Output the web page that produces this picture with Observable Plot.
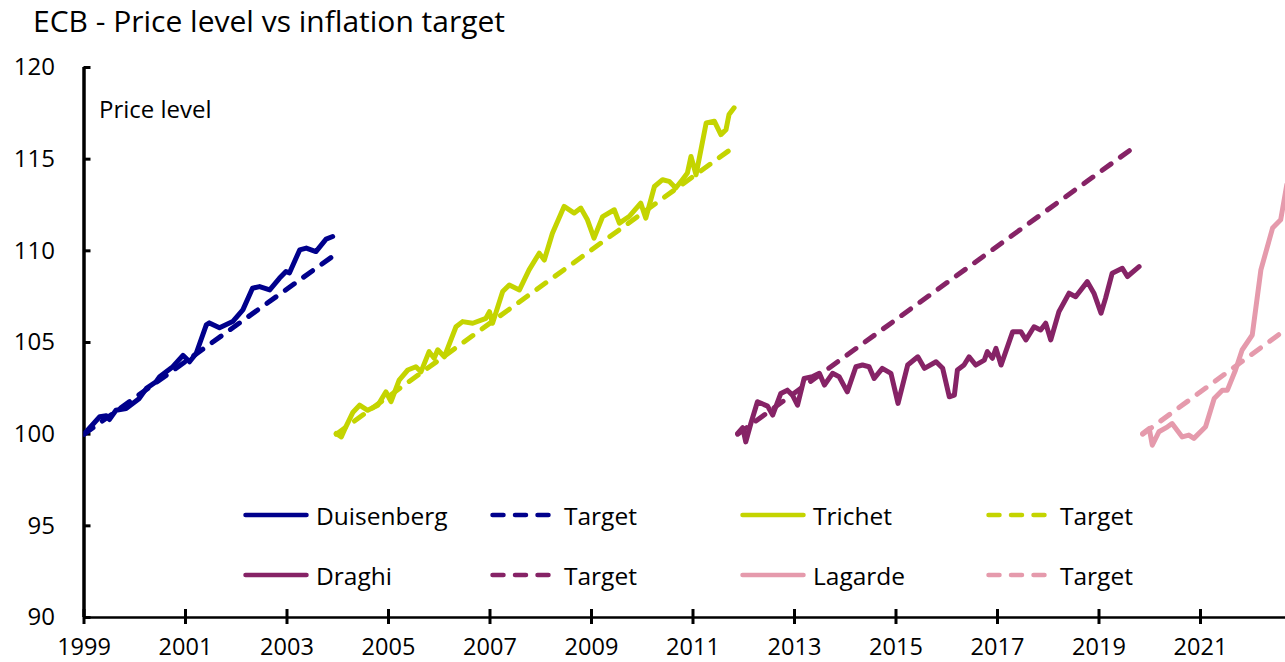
<!DOCTYPE html>
<html><head><meta charset="utf-8">
<script src="https://cdn.jsdelivr.net/npm/d3@7"></script>
<script src="https://cdn.jsdelivr.net/npm/@observablehq/plot@0.6"></script>
<style>
body{margin:0;background:#fff;font-family:"Open Sans",sans-serif;}
#wrap{position:relative;width:1285px;height:662px;overflow:hidden;background:#fff;}
#title{height:40px;font-size:30px;line-height:41px;padding-left:33px;color:#000;white-space:nowrap;overflow:visible;}
#title span{position:relative;top:-3px;}
.leg{position:absolute;height:30px;display:flex;align-items:center;font-size:24.5px;color:#000;white-space:nowrap;}
.leg svg{display:block;margin-right:7px;}
</style></head><body>
<div id="wrap"><div id="title">ECB - Price level vs inflation target</div><div id="chart"></div><div id="legend"></div></div>
<script>
// ---- data (decimal years, price level index) ----
const seriesNames = ["Duisenberg", "Trichet", "Draghi", "Lagarde"];
const seriesColors = ["#00008c", "#c4d400", "#862366", "#e59aac"];
const xTicks = [1999, 2001, 2003, 2005, 2007, 2009, 2011, 2013, 2015, 2017, 2019, 2021];
const yTicks = [90, 95, 100, 105, 110, 115, 120];

const duisenbergYear = [1999.0, 1999.31, 1999.44, 1999.5, 1999.63, 1999.83, 2000.09, 2000.23, 2000.42, 2000.49, 2000.75, 2000.95, 2001.08, 2001.21, 2001.41, 2001.47, 2001.67, 2001.93, 2002.13, 2002.32, 2002.46, 2002.66, 2002.85, 2002.98, 2003.05, 2003.25, 2003.38, 2003.57, 2003.77, 2003.9];
const duisenbergLevel = [100.0, 100.95, 101.0, 100.8, 101.3, 101.4, 101.95, 102.5, 102.86, 103.13, 103.68, 104.3, 103.95, 104.4, 105.96, 106.07, 105.8, 106.14, 106.78, 107.96, 108.05, 107.87, 108.5, 108.87, 108.8, 110.05, 110.15, 109.96, 110.64, 110.78];

const trichetYear = [2003.97, 2004.07, 2004.16, 2004.3, 2004.43, 2004.59, 2004.79, 2004.95, 2005.05, 2005.21, 2005.38, 2005.54, 2005.64, 2005.8, 2005.9, 2005.97, 2006.1, 2006.33, 2006.46, 2006.66, 2006.92, 2006.99, 2007.05, 2007.25, 2007.38, 2007.58, 2007.77, 2007.97, 2008.07, 2008.23, 2008.46, 2008.66, 2008.79, 2008.92, 2009.05, 2009.22, 2009.45, 2009.55, 2009.74, 2009.97, 2010.07, 2010.24, 2010.4, 2010.53, 2010.66, 2010.79, 2010.89, 2010.96, 2011.06, 2011.26, 2011.42, 2011.55, 2011.65, 2011.71, 2011.81];
const trichetLevel = [100.04, 99.85, 100.4, 101.2, 101.58, 101.3, 101.58, 102.31, 101.77, 102.95, 103.5, 103.68, 103.4, 104.5, 104.14, 104.6, 104.22, 105.86, 106.14, 106.05, 106.32, 106.68, 106.05, 107.78, 108.14, 107.87, 108.96, 109.87, 109.5, 110.96, 112.42, 112.06, 112.33, 111.69, 110.69, 111.87, 112.24, 111.51, 111.87, 112.6, 111.78, 113.51, 113.88, 113.79, 113.43, 113.88, 114.24, 115.15, 114.15, 116.98, 117.07, 116.34, 116.61, 117.43, 117.8];

const draghiYear = [2011.88, 2011.98, 2012.04, 2012.14, 2012.27, 2012.47, 2012.57, 2012.73, 2012.86, 2012.96, 2013.06, 2013.19, 2013.35, 2013.49, 2013.59, 2013.75, 2013.88, 2014.04, 2014.21, 2014.34, 2014.47, 2014.57, 2014.73, 2014.9, 2015.04, 2015.23, 2015.43, 2015.56, 2015.79, 2015.92, 2016.05, 2016.15, 2016.21, 2016.34, 2016.44, 2016.57, 2016.74, 2016.8, 2016.9, 2016.97, 2017.07, 2017.3, 2017.46, 2017.56, 2017.72, 2017.85, 2017.95, 2018.05, 2018.21, 2018.41, 2018.54, 2018.77, 2018.9, 2019.04, 2019.13, 2019.26, 2019.46, 2019.56, 2019.79];
const draghiLevel = [100.04, 100.35, 99.58, 100.58, 101.77, 101.53, 101.04, 102.22, 102.4, 102.13, 101.58, 103.04, 103.13, 103.32, 102.68, 103.32, 103.13, 102.31, 103.68, 103.77, 103.68, 103.04, 103.59, 103.32, 101.68, 103.77, 104.22, 103.59, 103.95, 103.59, 102.04, 102.13, 103.5, 103.77, 104.22, 103.77, 104.04, 104.5, 104.14, 104.68, 103.77, 105.59, 105.59, 105.14, 105.86, 105.68, 106.05, 105.14, 106.68, 107.69, 107.5, 108.32, 107.69, 106.6, 107.42, 108.78, 109.05, 108.6, 109.14];

const lagardeYear = [2019.86, 2019.99, 2020.05, 2020.18, 2020.35, 2020.44, 2020.64, 2020.77, 2020.87, 2021.1, 2021.27, 2021.43, 2021.53, 2021.69, 2021.82, 2022.02, 2022.19, 2022.42, 2022.58, 2022.7];
const lagardeLevel = [100.04, 100.31, 99.4, 100.13, 100.4, 100.58, 99.85, 99.95, 99.77, 100.4, 101.95, 102.4, 102.4, 103.5, 104.59, 105.41, 108.96, 111.24, 111.69, 113.6];

// 2% target paths: [start, end] of each term
const targetYear = [[1999.0, 2003.9], [2003.97, 2011.81], [2011.88, 2019.76], [2019.86, 2022.7]];
const targetLevel = [[100, 109.7], [100, 115.67], [100, 115.79], [100, 105.75]];

// ---- build tables ----
const actualYears = [duisenbergYear, trichetYear, draghiYear, lagardeYear];
const actualLevels = [duisenbergLevel, trichetLevel, draghiLevel, lagardeLevel];
const actual = [], target = [];
seriesNames.forEach((s, i) => {
  actualYears[i].forEach((yr, j) => actual.push({series: s, year: yr, level: actualLevels[i][j]}));
  targetYear[i].forEach((yr, j) => target.push({series: s, year: yr, level: targetLevel[i][j]}));
});

const font = '"Open Sans", sans-serif';
const chart = Plot.plot({
  width: 1285, height: 622,
  marginTop: 27, marginBottom: 45, marginLeft: 83.5, marginRight: 0,
  x: {domain: [1999, 2022.675], label: null},
  y: {domain: [90, 120], label: null},
  color: {domain: seriesNames, range: seriesColors},
  style: {fontFamily: font, fontSize: "24px", color: "#000", background: "white", overflow: "hidden"},
  marks: [
    Plot.axisY({ticks: yTicks, tickSize: 0, tickPadding: 29, tickFormat: d => String(d), fontSize: 24, fill: "#000"}),
    Plot.axisY({ticks: yTicks, tickSize: -7, fill: "none", stroke: "#000", strokeWidth: 3}),
    Plot.axisX({ticks: xTicks, tickSize: 7, tickPadding: 14, tickFormat: d => String(d), stroke: "#000", strokeWidth: 3, fontSize: 23.5, fill: "#000"}),
    Plot.axisX({ticks: xTicks, tickSize: -8, fill: "none", stroke: "#000", strokeWidth: 3}),
    Plot.ruleY([yTicks[0]], {stroke: "#000", strokeWidth: 2.5}),
    Plot.ruleX([xTicks[0]], {y1: yTicks[0], y2: yTicks[yTicks.length - 1], stroke: "#000", strokeWidth: 3.5}),
    Plot.text(["Price level"], {text: d => d, frameAnchor: "top-left", dx: 15, dy: 33, lineAnchor: "top", textAnchor: "start", fontSize: 24, fill: "#000"}),
    Plot.line(target, {x: "year", y: "level", z: "series", stroke: "series", strokeWidth: 5, strokeDasharray: "11,11.5", strokeLinecap: "round", clip: true}),
    Plot.line(actual, {x: "year", y: "level", z: "series", stroke: "series", strokeWidth: 5, strokeLinejoin: "round", clip: true})
  ]
});
document.getElementById("chart").appendChild(chart);

// ---- legend ----
const legendPos = [
  {s: 0, dash: false, label: "Duisenberg", x: 243, y: 515},
  {s: 0, dash: true, label: "Target", x: 490, y: 515},
  {s: 1, dash: false, label: "Trichet", x: 740, y: 515},
  {s: 1, dash: true, label: "Target", x: 986, y: 515},
  {s: 2, dash: false, label: "Draghi", x: 243, y: 575},
  {s: 2, dash: true, label: "Target", x: 490, y: 575},
  {s: 3, dash: false, label: "Lagarde", x: 740, y: 575},
  {s: 3, dash: true, label: "Target", x: 986, y: 575}
];
const leg = document.getElementById("legend");
legendPos.forEach(it => {
  const d = document.createElement("div");
  d.className = "leg";
  d.style.left = it.x + "px";
  d.style.top = (it.y - 15) + "px";
  const w = it.dash ? 64 : 66;
  const col = seriesColors[it.s];
  d.innerHTML = `<svg width="${w}" height="10"><line x1="2.5" y1="5" x2="${w - 2.5}" y2="5" stroke="${col}" stroke-width="4.5" stroke-linecap="round" ${it.dash ? 'stroke-dasharray="11,11.5"' : ''}/></svg><span>${it.label}</span>`;
  if (it.dash) d.querySelector("svg").style.marginRight = "10px";
  leg.appendChild(d);
});
</script>
</body></html>
